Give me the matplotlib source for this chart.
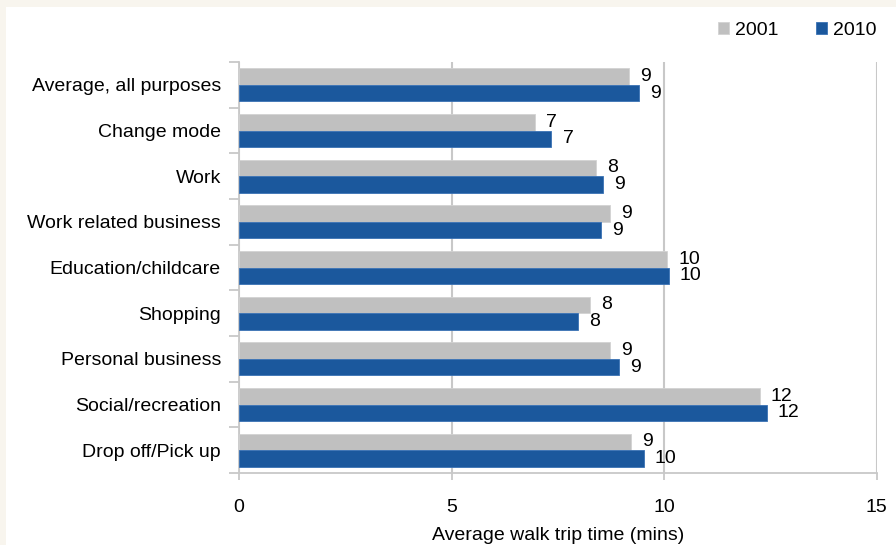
import matplotlib
matplotlib.use("Agg")
import matplotlib.pyplot as plt
from matplotlib.patches import Rectangle
import numpy as np

plt.rcParams['font.family'] = ['Liberation Sans', 'DejaVu Sans']

categories = ["Average, all purposes", "Change mode", "Work", "Work related business",
              "Education/childcare", "Shopping", "Personal business",
              "Social/recreation", "Drop off/Pick up"]
values_2001 = [9.17, 6.96, 8.40, 8.73, 10.07, 8.25, 8.72, 12.25, 9.21]
values_2010 = [9.41, 7.35, 8.56, 8.51, 10.11, 7.97, 8.94, 12.41, 9.52]
series_names = ["2001", "2010"]
x_ticks = [0, 5, 10, 15]
x_label = "Average walk trip time (mins)"

GRAY = "#C0C0C0"
BLUE = "#1B589D"
GRID = "#C8C8C8"
FS = 14

W, H = 896, 545
fig = plt.figure(figsize=(W / 100, H / 100), dpi=100)
fig.patch.set_facecolor("#F8F5EE")
panel = Rectangle((6 / W, 0), 1, 1 - 7 / H, transform=fig.transFigure,
                  facecolor="white", edgecolor="none", zorder=-10)
fig.patches.append(panel)

ax = fig.add_axes([239 / W, 1 - 473 / H, (876.7 - 239) / W, (473 - 62) / H])
ax.set_facecolor("none")
ax.set_zorder(5)

y = np.arange(len(categories))
h = 0.36
b1 = ax.barh(y - h / 2, values_2001, height=h, color=GRAY, edgecolor="#D2D2D2",
             linewidth=0.6, label=series_names[0], zorder=3)
b2 = ax.barh(y + h / 2, values_2010, height=h, color=BLUE, edgecolor="#3A72B5",
             linewidth=0.6, label=series_names[1], zorder=3)

for bars, vals in ((b1, values_2001), (b2, values_2010)):
    for rect, v in zip(bars, vals):
        ax.annotate(f"{v:.0f}", xy=(v, rect.get_y() + rect.get_height() / 2),
                    xytext=(8, 0), textcoords="offset points", ha="left",
                    va="center", fontsize=FS, color="black", zorder=4)

ax.set_xlim(0, 15)
ax.set_ylim(len(categories) - 0.5, -0.5)
ax.set_xticks(x_ticks)
ax.set_xticklabels([str(t) for t in x_ticks], fontsize=FS)
ax.set_yticks(y)
ax.set_yticklabels(categories, fontsize=FS)
ax.set_yticks(np.arange(len(categories) + 1) - 0.5, minor=True)
ax.tick_params(axis="y", which="major", length=0, pad=13)
ax.tick_params(axis="y", which="minor", length=7, color=GRID, width=1.3)
ax.tick_params(axis="x", which="major", length=5, color=GRID, width=1.3, pad=14)

for s in ["top", "right"]:
    ax.spines[s].set_visible(False)
for s in ["left", "bottom"]:
    ax.spines[s].set_color(GRID)
    ax.spines[s].set_linewidth(1.3)

ax.xaxis.grid(True, color=GRID, linewidth=1.5, zorder=0)
ax.set_axisbelow(True)
ax.set_xlabel(x_label, fontsize=FS, labelpad=8)

leg = fig.legend(handles=[b1, b2], labels=series_names, loc="upper right",
                 bbox_to_anchor=(884 / W, 1 - 14 / H), ncol=2, frameon=False,
                 fontsize=FS, handlelength=0.55, handleheight=0.55,
                 handletextpad=0.3, columnspacing=1.95, borderaxespad=0)

fig.savefig("out.png", dpi=100, facecolor=fig.get_facecolor())
